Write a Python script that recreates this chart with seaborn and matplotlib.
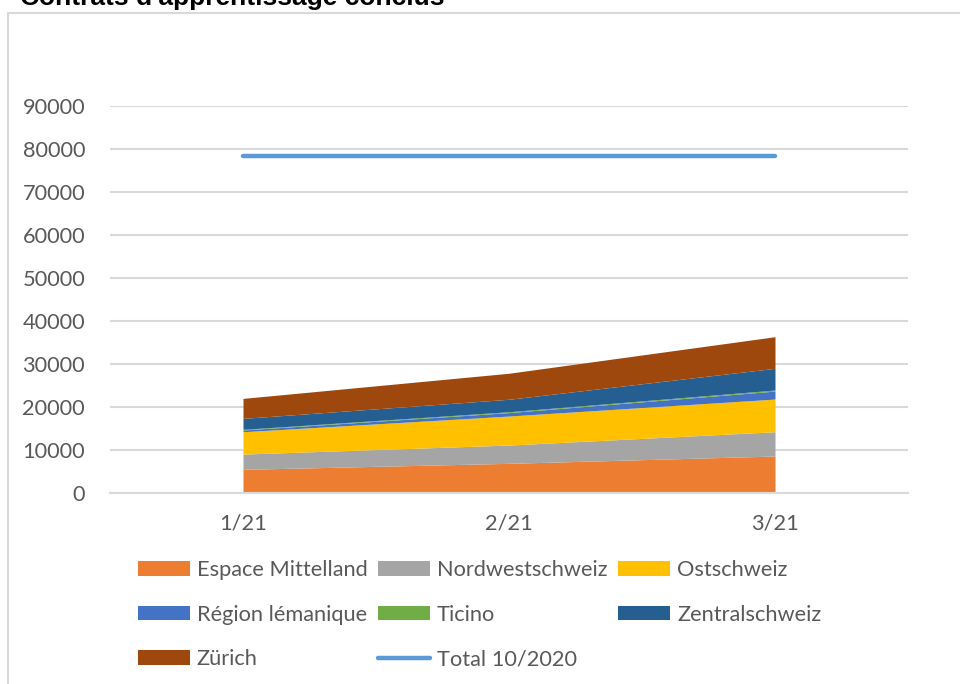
import numpy as np
import matplotlib
matplotlib.use('Agg')
import matplotlib.pyplot as plt
from matplotlib.lines import Line2D
from matplotlib.patches import Patch
import seaborn as sns

# Daten
months = ['1/21', '2/21', '3/21']
espace_mittelland = [5500, 6900, 8600]
nordwestschweiz = [3550, 4250, 5650]
ostschweiz = [5200, 6750, 7600]
region_lemanique = [400, 800, 1850]
ticino = [150, 200, 250]
zentralschweiz = [2550, 2900, 5050]
zuerich = [4650, 6050, 7350]
total_2020 = [78400, 78400, 78400]

series_names = ['Espace Mittelland', 'Nordwestschweiz', 'Ostschweiz',
                'Région lémanique', 'Ticino', 'Zentralschweiz', 'Zürich']
series_colors = ['#ED7D31', '#A5A5A5', '#FFC000', '#4472C4',
                 '#70AD47', '#255E91', '#9E480E']
total_color = '#5B9BD5'
text_color = '#595959'
grid_color = '#D9D9D9'
fs = 15.7

sns.set_style('white')
plt.rcParams['font.family'] = ['Lato', 'DejaVu Sans']

fig = plt.figure(figsize=(9.6, 6.84), dpi=100)
ax = fig.add_axes([110 / 960, 191 / 684, 798 / 960, 387 / 684])

x = np.arange(len(months))
ax.stackplot(x, espace_mittelland, nordwestschweiz, ostschweiz,
             region_lemanique, ticino, zentralschweiz, zuerich,
             colors=series_colors, linewidth=0)
sns.lineplot(x=x, y=total_2020, ax=ax, color=total_color, linewidth=3.2,
             solid_capstyle='round', legend=False)

ax.set_xlim(-0.5, 2.5)
ax.set_ylim(0, 90000)
ax.set_yticks(np.arange(0, 90001, 10000))
ax.set_xticks(x)
ax.set_xticklabels(months)
ax.yaxis.grid(True, color=grid_color, linewidth=1.5)
ax.set_axisbelow(True)
for s in ['top', 'right', 'left']:
    ax.spines[s].set_visible(False)
ax.spines['bottom'].set_color(grid_color)
ax.spines['bottom'].set_linewidth(1.5)
ax.tick_params(axis='both', length=0, labelsize=fs, labelcolor=text_color)
ax.tick_params(axis='y', pad=18)
ax.tick_params(axis='x', pad=15)

# légende, ordre ligne par ligne comme Excel
patches = [Patch(facecolor=c, edgecolor='none', label=n)
           for n, c in zip(series_names, series_colors)]
total_handle = Line2D([], [], color=total_color, linewidth=3.2,
                      solid_capstyle='round', label='Total 10/2020')
handles = [patches[0], patches[3], patches[6],
           patches[1], patches[4], total_handle,
           patches[2], patches[5]]
leg = fig.legend(handles=handles, ncol=3, loc='upper left',
                 bbox_to_anchor=(138 / 960, 1 - 560 / 684),
                 frameon=False, fontsize=fs, handlelength=2.38,
                 handleheight=0.65, handletextpad=0.32, columnspacing=0.48,
                 labelspacing=1.13, borderpad=0, borderaxespad=0)
for t in leg.get_texts():
    t.set_color(text_color)

# cadre du graphique et titre (coupé en haut)
fig.add_artist(Line2D([8 / 960, 1], [1 - 12.5 / 684, 1 - 12.5 / 684],
                      color=grid_color, linewidth=1.5))
fig.add_artist(Line2D([8 / 960, 8 / 960], [0, 1 - 12.5 / 684],
                      color=grid_color, linewidth=1.5))
fig.text(20 / 960, 1 - 5 / 684, "Contrats d'apprentissage conclus",
         fontsize=19, fontweight='bold', color='black', va='baseline',
         family=['Liberation Sans', 'DejaVu Sans'])

fig.savefig('out.png', dpi=100, facecolor='white')
